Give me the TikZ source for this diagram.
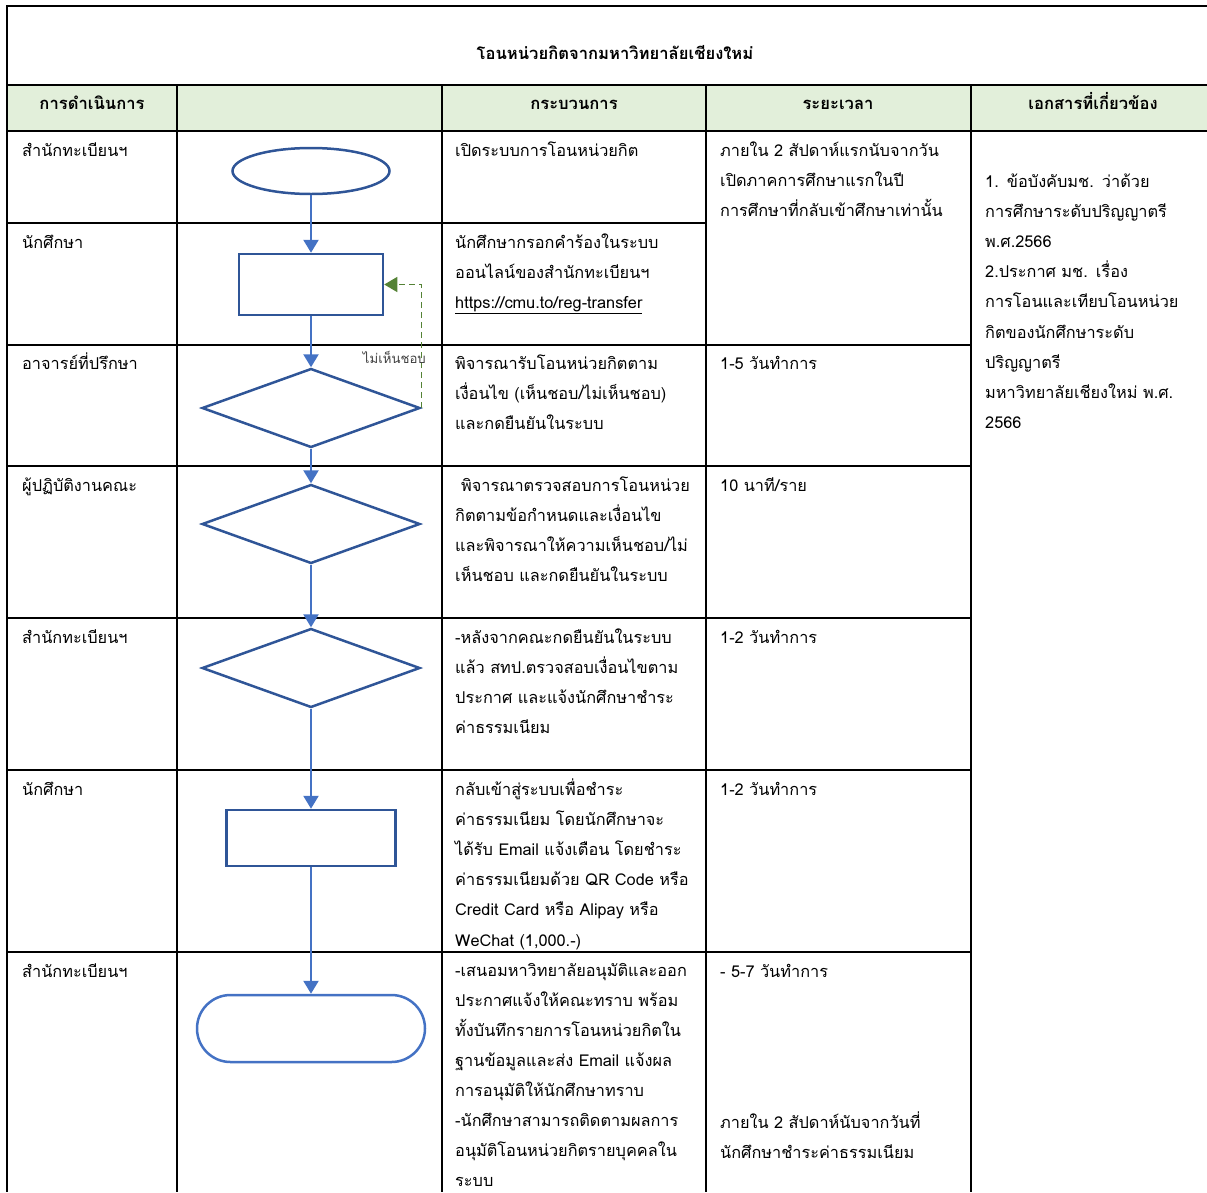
\documentclass[tikz,border=0pt]{standalone}
\usepackage{fontspec}
\setmainfont[Script=Thai]{Loma}
\usetikzlibrary{shapes.geometric,shapes.misc,arrows.meta}
\definecolor{hdrgreen}{HTML}{E2EFDA}
\definecolor{boxblue}{HTML}{2F5597}
\definecolor{lineblue}{HTML}{4472C4}
\definecolor{backgreen}{HTML}{548235}
\definecolor{notegray}{HTML}{404040}
\begin{document}
\begin{tikzpicture}[x=1pt, y=-1pt,
    grid/.style={line width=2.2pt, black},
    hdr/.style={font=\bfseries\fontsize{16.6}{19}\selectfont, anchor=base, inner sep=0pt},
    cell/.style={anchor=base west, inner sep=0pt, text width=255pt, align=left,
                 font=\fontsize{16.3}{30.2}\selectfont},
    shp/.style={draw=boxblue, line width=2.5pt, inner sep=0pt},
    flow/.style={draw=lineblue, line width=2.4pt, -{Triangle[length=13pt,width=15pt]}},
    back/.style={draw=backgreen, line width=1.4pt, dash pattern=on 6pt off 4pt,
                 -{Triangle[length=13pt,width=15pt]}}]
\useasboundingbox (0,0) rectangle (1207,1192);
% table
\fill[hdrgreen] (7,85) rectangle (1207,131);
\draw[grid] (1207,6) -- (7,6) -- (7,1192);
\draw[grid] (7,85) -- (1207,85);
\draw[grid] (7,131) -- (1207,131);
\foreach \cx in {177,442,706,971}
  \draw[grid] (\cx,85) -- (\cx,1192);
\draw[grid] (7,223) -- (706,223);
\foreach \ry in {345,466,618,770,952}
  \draw[grid] (7,\ry) -- (971,\ry);

% headings
\node[hdr] (title) at (615,59) {โอนหน่วยกิตจากมหาวิทยาลัยเชียงใหม่};
\node[hdr] (hact) at (92,109) {การดำเนินการ};
\node[hdr] (hproc) at (574,109) {กระบวนการ};
\node[hdr] (htime) at (838,109) {ระยะเวลา};
\node[hdr] (hdoc) at (1093,109) {เอกสารที่เกี่ยวข้อง};

% who
\node[cell] (act1) at (22,156) {สำนักทะเบียนฯ};
\node[cell] (act2) at (22,248) {นักศึกษา};
\node[cell] (act3) at (22,369) {อาจารย์ที่ปรึกษา};
\node[cell] (act4) at (22,491) {ผู้ปฏิบัติงานคณะ};
\node[cell] (act5) at (22,643) {สำนักทะเบียนฯ};
\node[cell] (act6) at (22,795) {นักศึกษา};
\node[cell] (act7) at (22,977) {สำนักทะเบียนฯ};

% flow
\node[shp, ellipse, minimum width=157pt, minimum height=46pt] (start) at (311,171) {};
\node[shp, rectangle, minimum width=144pt, minimum height=61pt] (form) at (311,284.5) {};
\node[shp, diamond, minimum width=218pt, minimum height=79pt] (adv) at (311,408) {};
\node[shp, diamond, minimum width=218pt, minimum height=79pt] (fac) at (311,524) {};
\node[shp, diamond, minimum width=218pt, minimum height=79pt] (reg) at (311,668) {};
\node[shp, rectangle, minimum width=169pt, minimum height=56pt] (pay) at (311,838) {};
\node[shp, draw=lineblue, rounded rectangle, minimum width=228pt, minimum height=67pt] (done) at (311,1028.5) {};
\draw[flow] (start) -- (form);
\draw[flow] (form) -- (adv);
\draw[flow] (adv) -- (fac);
\draw[flow] (fac) -- (reg);
\draw[flow] (reg) -- (pay);
\draw[flow] (pay) -- (done);
\draw[back] (adv.east) |- (form.east);
\node[inner sep=0pt, anchor=base east, text=notegray, font=\fontsize{13.2}{15}\selectfont] (nolabel) at (426,363) {ไม่เห็นชอบ};

% process
\node[cell] (proc1) at (455,156) {เปิดระบบการโอนหน่วยกิต};
\node[cell] (proc2) at (455,248) {นักศึกษากรอกคำร้องในระบบ\\ออนไลน์ของสำนักทะเบียนฯ\\\underline{https://cmu.to/reg-transfer}};
\node[cell] (proc3) at (455,369) {พิจารณารับโอนหน่วยกิตตาม\\เงื่อนไข (เห็นชอบ/ไม่เห็นชอบ)\\และกดยืนยันในระบบ};
\node[cell] (proc4) at (455,491) {\hspace{6pt}พิจารณาตรวจสอบการโอนหน่วย\\กิตตามข้อกำหนดและเงื่อนไข\\และพิจารณาให้ความเห็นชอบ/ไม่\\เห็นชอบ และกดยืนยันในระบบ};
\node[cell] (proc5) at (455,643) {-หลังจากคณะกดยืนยันในระบบ\\แล้ว สทป.ตรวจสอบเงื่อนไขตาม\\ประกาศ และแจ้งนักศึกษาชำระ\\ค่าธรรมเนียม};
\node[cell] (proc6) at (455,795) {กลับเข้าสู่ระบบเพื่อชำระ\\ค่าธรรมเนียม โดยนักศึกษาจะ\\ได้รับ Email แจ้งเตือน โดยชำระ\\ค่าธรรมเนียมด้วย QR Code หรือ\\Credit Card หรือ Alipay หรือ\\WeChat (1,000.-)};
\node[cell, font=\fontsize{16.3}{30}\selectfont] (proc7) at (455,976) {-เสนอมหาวิทยาลัยอนุมัติและออก\\ประกาศแจ้งให้คณะทราบ พร้อม\\ทั้งบันทึกรายการโอนหน่วยกิตใน\\ฐานข้อมูลและส่ง Email แจ้งผล\\การอนุมัติให้นักศึกษาทราบ\\-นักศึกษาสามารถติดตามผลการ\\อนุมัติโอนหน่วยกิตรายบุคคลใน\\ระบบ};

% time
\node[cell] (time1) at (720,156) {ภายใน 2 สัปดาห์แรกนับจากวัน\\เปิดภาคการศึกษาแรกในปี\\การศึกษาที่กลับเข้าศึกษาเท่านั้น};
\node[cell] (time3) at (720,369) {1-5 วันทำการ};
\node[cell] (time4) at (720,491) {10 นาที/ราย};
\node[cell] (time5) at (720,643) {1-2 วันทำการ};
\node[cell] (time6) at (720,795) {1-2 วันทำการ};
\node[cell] (time7) at (720,977) {- 5-7 วันทำการ};
\node[cell] (time8) at (720,1128) {ภายใน 2 สัปดาห์นับจากวันที่\\นักศึกษาชำระค่าธรรมเนียม};

% documents
\node[cell, text width=225pt] (docs) at (985,187) {1. ข้อบังคับมช. ว่าด้วย\\การศึกษาระดับปริญญาตรี\\พ.ศ.2566\\2.ประกาศ มช. เรื่อง\\การโอนและเทียบโอนหน่วย\\กิตของนักศึกษาระดับ\\ปริญญาตรี\\มหาวิทยาลัยเชียงใหม่ พ.ศ.\\2566};
\end{tikzpicture}
\end{document}
